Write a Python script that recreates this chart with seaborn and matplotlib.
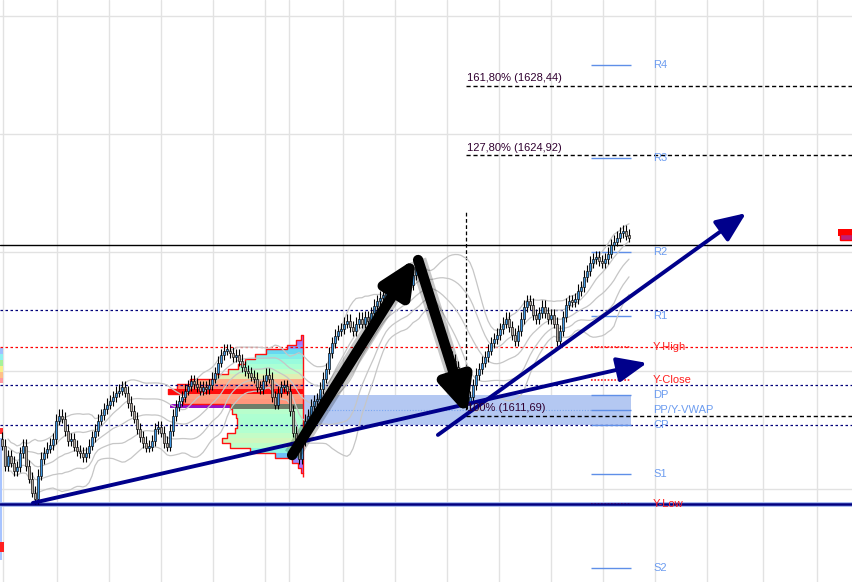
import numpy as np
import pandas as pd
import matplotlib
matplotlib.use("Agg")
import matplotlib.pyplot as plt
import seaborn as sns
from matplotlib.patches import Rectangle

# ---------------- data ----------------
first_open = 1610.60
closes = [
    1610.23, 1609.21, 1609.72, 1609.37, 1608.96, 1609.16, 1609.87, 1610.23, 1609.21, 1608.56,
    1607.85, 1607.54, 1608.71, 1609.57, 1609.87, 1610.08, 1610.28, 1610.58, 1611.50, 1611.75,
    1611.60, 1610.99, 1610.48, 1610.58, 1610.18, 1609.97, 1609.87, 1609.67, 1609.87, 1610.23,
    1610.68, 1610.99, 1611.50, 1611.80, 1612.10, 1612.31, 1612.51, 1612.71, 1612.92, 1613.02,
    1613.22, 1612.92, 1612.41, 1612.00, 1611.60, 1611.09, 1610.68, 1610.38, 1610.13, 1610.18,
    1610.48, 1611.09, 1611.19, 1610.89, 1610.38, 1610.18, 1610.99, 1611.75, 1612.21, 1612.51,
    1612.71, 1613.02, 1613.27, 1613.52, 1613.37, 1613.22, 1613.02, 1613.22, 1613.12, 1613.32,
    1613.63, 1613.93, 1614.44, 1614.84, 1615.05, 1615.05, 1614.94, 1614.74, 1614.84, 1614.54,
    1614.23, 1614.03, 1613.93, 1613.73, 1613.63, 1613.22, 1613.12, 1613.52, 1613.83, 1613.63,
    1612.71, 1612.31, 1612.92, 1613.22, 1613.27, 1613.02, 1612.00, 1610.89, 1610.08, 1609.57,
    1610.48, 1611.50, 1611.75, 1612.26, 1612.51, 1612.61, 1613.12, 1613.63, 1614.13, 1614.94,
    1615.45, 1615.81, 1616.06, 1616.16, 1616.46, 1616.57, 1616.26, 1616.06, 1616.46, 1616.67,
    1616.46, 1616.77, 1616.57, 1616.97, 1617.33, 1617.58, 1617.78, 1617.88, 1617.99, 1617.78,
    1617.99, 1618.09, 1618.19, 1618.39, 1618.59, 1618.29, 1618.39, 1618.90, 1619.30, 1619.10,
    1618.70, 1618.29, 1617.68, 1617.07, 1616.57, 1616.06, 1615.65, 1615.35, 1615.05, 1614.74,
    1614.54, 1614.23, 1613.83, 1613.32, 1612.81, 1612.31, 1612.71, 1613.32, 1613.83, 1614.13,
    1614.44, 1614.74, 1615.05, 1615.45, 1615.65, 1615.86, 1616.16, 1616.46, 1616.67, 1616.26,
    1615.86, 1615.55, 1616.06, 1616.67, 1617.28, 1617.58, 1617.38, 1616.87, 1616.67, 1616.97,
    1617.28, 1616.97, 1616.67, 1616.87, 1616.46, 1615.55, 1616.06, 1616.77, 1617.38, 1617.58,
    1617.53, 1617.68, 1618.09, 1618.29, 1618.80, 1619.10, 1619.51, 1619.71, 1619.81, 1619.61,
    1619.51, 1619.71, 1620.01, 1620.42, 1620.62, 1620.82, 1621.03, 1621.13, 1620.92, 1620.82,
]

# volume profile (price rows, volume in bar widths)
prof_price = [1615.70, 1615.45, 1615.20, 1614.95, 1614.70, 1614.45, 1614.20, 1613.95,
              1613.70, 1613.45, 1613.20, 1612.95, 1612.70, 1612.45, 1612.20, 1611.95,
              1611.70, 1611.45, 1611.20, 1610.95, 1610.70, 1610.45, 1610.20, 1609.95,
              1609.70, 1609.45, 1609.20, 1608.95]
prof_vol = [0.7, 2.3, 5.3, 12.3, 16.0, 19.3, 21.7, 25.0, 29.3, 37.7, 42.0, 45.0, 39.3, 40.0,
            24.3, 23.7, 22.3, 22.0, 22.0, 22.7, 25.3, 27.0, 24.3, 17.7, 9.3, 3.7, 1.7, 0.7]
prof_anchor = 100.3
poc_price = 1612.95
val_price = 1612.20
val_bar = (56.0, 76.0)

# older profile peeking in at the left edge
left_strip_price = [1615.0, 1614.7, 1614.4, 1614.1, 1613.8, 1613.5, 1610.95]
left_strip_color = ["#9fc0ff", "#8ff0f0", "#a6f29a", "#f6f08a", "#ffc088", "#ff9aa0", "#ff3030"]
left_blue_span = (1604.4, 1610.6)
left_red_span = (1604.8, 1605.3)

# pivots
piv_names = ["R4", "R3", "R2", "R1", "DP", "PP/Y-VWAP", "CP", "S1", "S2"]
piv_levels = [1629.50, 1624.78, 1620.02, 1616.77, 1612.77, 1612.00, 1611.24, 1608.76, 1603.99]
yday_names = ["Y-High", "Y-Close", "Y-Low"]
yday_levels = [1615.20, 1613.53, 1607.24]
piv_start, piv_end, piv_label_x = 196.3, 209.7, 217.0

# fibonacci
fib_levels = [1628.44, 1624.92, 1611.69]
fib_labels = ["161,80% (1628,44)", "127,80% (1624,92)", "100% (1611,69)"]
fib_start = 154.7
fib_vline_top = 1622.04

# value zone
zone_lo, zone_hi = 1611.24, 1612.77
zone_start, zone_end = 100.3, 209.7

# full width levels
black_level = 1620.37
navy_dotted = [1617.08, 1613.27, 1611.24]
red_dotted = [1615.20]
navy_solid = 1607.24

# drawn arrows (start, end)
navy_arrows = [((10.3, 1607.29), (215.0, 1614.39)), ((145.3, 1610.74), (248.0, 1621.99))]
black_arrows = [((96.7, 1609.72), (138.0, 1619.71)), ((138.7, 1619.61), (155.0, 1611.75))]

grid_x = [0.33, 18.33, 35.67, 53.0, 70.33, 87.67, 95.67, 113.67, 131.0, 148.33,
          165.67, 183.0, 200.33, 217.67, 235.0, 253.67, 271.67]
grid_y = [1608, 1614, 1620, 1626, 1632]

# ---------------- figure ----------------
sns.set_theme(style="white")
plt.rcParams["font.family"] = ["Liberation Sans", "DejaVu Sans"]

fig = plt.figure(figsize=(8.52, 5.82), dpi=100)
ax = fig.add_axes([0, 0, 1, 1])
ax.set_xlim(-0.67, 283.33)
ax.set_ylim(1603.28, 1632.80)
for s in ax.spines.values():
    s.set_visible(False)
ax.set_xticks(grid_x)
ax.set_yticks(grid_y)
ax.tick_params(length=0, labelbottom=False, labelleft=False)
ax.grid(True, color="#e2e2e2", lw=1.0, zorder=0)
ax.set_axisbelow(True)

# value zone
ax.add_patch(Rectangle((zone_start, zone_lo), zone_end - zone_start, zone_hi - zone_lo,
                       color="#b4c8f2", lw=0, zorder=1))
ax.hlines(1612.00, 108, piv_start, color="#7aa6f0", lw=0.8, linestyles=(0, (1, 1.5)), zorder=1.5)

# left edge remnants
for p, col in zip(left_strip_price, left_strip_color):
    ax.barh(p, 1.0, left=-0.67, height=0.3, color=col, lw=0, zorder=2)
ax.bar(-0.4, left_blue_span[1] - left_blue_span[0], bottom=left_blue_span[0], width=0.6,
       color="#a8c4ff", lw=0, zorder=2)
ax.bar(0.0, left_red_span[1] - left_red_span[0], bottom=left_red_span[0], width=1.2,
       color="#ff2020", lw=0, zorder=2)

# volume profile
cmap = plt.get_cmap("rainbow")
vmax = max(prof_vol)
rowh = 0.25
for p, v in zip(prof_price, prof_vol):
    c = np.array(cmap(v / vmax)[:3]) * 0.62 + 0.38
    if p == val_price:
        c = "#6f7d69"
    if p == poc_price:
        ax.barh(p, vmax, left=prof_anchor - vmax, height=rowh, color="#ff0c0c", lw=0, zorder=2.1)
    else:
        ax.barh(p, -v, left=prof_anchor, height=rowh, color=c, lw=0, zorder=2)
ax.barh(val_price, val_bar[1] - val_bar[0], left=val_bar[0], height=rowh * 0.9,
        color="#9612c8", lw=0, zorder=2.1)
ox, oy = [prof_anchor], [prof_price[0] + rowh / 2]
for p, v in zip(prof_price, prof_vol):
    ox += [prof_anchor - v, prof_anchor - v]
    oy += [p + rowh / 2, p - rowh / 2]
ox.append(prof_anchor)
oy.append(prof_price[-1] - rowh / 2)
ax.plot(ox, oy, color="#ff1010", lw=1.0, zorder=2.2)
ax.vlines(prof_anchor, prof_price[-1] - rowh / 2 - 0.2, prof_price[0] + rowh / 2,
          color="#ff1010", lw=1.0, zorder=2.2)

# full width levels
ax.axhline(black_level, color="black", lw=1.0, zorder=3)
for lv in navy_dotted:
    ax.axhline(lv, color="#00007a", lw=0.9, ls=(0, (2, 2)), zorder=3)
for lv in red_dotted:
    ax.axhline(lv, color="#ff0000", lw=0.9, ls=(0, (2, 2)), zorder=3)
ax.axhline(navy_solid, color="#9fb4ee", lw=3.4, zorder=3)
ax.axhline(navy_solid, color="#000080", lw=1.8, zorder=3.1)

# fibonacci
for lv, lab in zip(fib_levels, fib_labels):
    ax.hlines(lv, fib_start, 283.33, color="black", lw=1.0, ls=(0, (3, 2)), zorder=3)
    ax.annotate(lab, (fib_start, lv), xytext=(1, 2), textcoords="offset points",
                ha="left", va="bottom", fontsize=8, color="#300030", zorder=8)
ax.vlines(fib_start, fib_levels[2], fib_vline_top, color="black", lw=0.9,
          linestyles=(0, (3, 2)), zorder=3)

# pivots
for name, lv in zip(piv_names, piv_levels):
    ax.hlines(lv, piv_start, piv_end, color="#5f8fe8", lw=1.0, zorder=3)
    ax.text(piv_label_x, lv, name, color="#6c9cf0", fontsize=8, va="center", ha="left", zorder=8)
for name, lv in zip(yday_names, yday_levels):
    ax.hlines(lv, piv_start, piv_end, color="#ff2020", lw=1.2, linestyles=(0, (1, 1)), zorder=3)
    ax.text(piv_label_x, lv, name, color="#ff2020", fontsize=8, va="center", ha="left", zorder=8)

# envelope bands
idx = np.arange(len(closes))
cs = pd.Series(closes)
mid = cs.rolling(20, min_periods=3).mean()
sd = cs.rolling(20, min_periods=3).std()
for k in (-1.6, -0.8, 0, 0.8, 1.6):
    sns.lineplot(x=idx, y=mid + k * sd, color="#c6c6c6", lw=0.9, ax=ax, zorder=3.5)

# candles
c = np.array(closes)
o = np.array([first_open] + closes[:-1])
wick = 0.28
ax.vlines(idx, np.minimum(o, c) - wick, np.maximum(o, c) + wick, color="black", lw=0.8, zorder=4)
cols = np.where(c >= o, "#3f96e0", "#b4aaa2")
ax.bar(idx, np.maximum(np.abs(c - o), 0.14), bottom=np.minimum(o, c) - 0.07, width=0.95,
       color=cols, edgecolor="black", linewidth=0.45, zorder=5)

# navy trend arrows
for (x0, y0), (x1, y1) in navy_arrows:
    ax.annotate("", xy=(x1, y1), xytext=(x0, y0),
                arrowprops=dict(arrowstyle="-|>,head_length=1.3,head_width=0.55",
                                color="#00008b", lw=2.8, mutation_scale=14,
                                shrinkA=0, shrinkB=0), zorder=6)

# black swing arrows with soft shaft
for (x0, y0), (x1, y1) in black_arrows:
    ax.plot([x0, x0 + 0.8 * (x1 - x0)], [y0, y0 + 0.8 * (y1 - y0)], color="black",
            alpha=0.22, lw=12, solid_capstyle="butt", zorder=6.5)
    ax.annotate("", xy=(x1, y1), xytext=(x0, y0),
                arrowprops=dict(arrowstyle="-|>,head_length=1.3,head_width=0.6",
                                color="black", lw=7.5, mutation_scale=16,
                                shrinkA=0, shrinkB=0), zorder=7)

# marker at right edge
ax.add_patch(Rectangle((278.7, 1620.83), 4.7, 0.35, color="#ff0000", lw=0, zorder=5))
ax.add_patch(Rectangle((279.3, 1620.63), 4.0, 0.30, facecolor="#c0207a",
                       edgecolor="#ff0000", lw=1, zorder=5.1))

fig.savefig("out.png", dpi=100)
